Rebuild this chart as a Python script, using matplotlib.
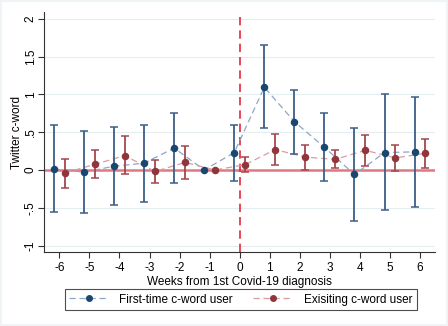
import matplotlib
matplotlib.use("Agg")
import matplotlib.pyplot as plt
from matplotlib.lines import Line2D
from matplotlib.patches import Rectangle
import numpy as np

plt.rcParams["font.family"] = ["Liberation Sans", "DejaVu Sans"]

weeks = [-6, -5, -4, -3, -2, -1, 0, 1, 2, 3, 4, 5, 6]
first_est = [0.013, -0.03, 0.05, 0.09, 0.29, 0.0, 0.23, 1.095, 0.64, 0.30, -0.06, 0.23, 0.24]
first_lo = [-0.56, -0.57, -0.47, -0.42, -0.17, None, -0.14, 0.55, 0.21, -0.15, -0.67, -0.53, -0.49]
first_hi = [0.60, 0.51, 0.57, 0.59, 0.75, None, 0.60, 1.65, 1.06, 0.75, 0.56, 1.00, 0.96]
exist_est = [-0.04, 0.075, 0.19, -0.02, 0.10, 0.0, 0.07, 0.27, 0.17, 0.14, 0.26, 0.16, 0.22]
exist_lo = [-0.24, -0.11, -0.06, -0.17, -0.12, None, -0.03, 0.07, 0.0, 0.02, 0.05, -0.02, 0.02]
exist_hi = [0.15, 0.26, 0.45, 0.13, 0.32, None, 0.17, 0.47, 0.33, 0.26, 0.46, 0.33, 0.41]
yticks = [-1, -0.5, 0, 0.5, 1, 1.5, 2]
ytick_labels = ["-1", "-.5", "0", ".5", "1", "1.5", "2"]
labels = ["First-time c-word user", "Exisiting c-word user"]

blue = "#1a476f"
blue_ci = "#3b5f86"
blue_ln = "#8ea6c4"
red = "#90353b"
red_ci = "#a2474e"
red_ln = "#d69ea2"

fig = plt.figure(figsize=(4.48, 3.26), dpi=100)
fig.patch.set_facecolor("white")
fig.patches.append(Rectangle((0, 0), 1, 1, transform=fig.transFigure, fill=False,
                             edgecolor="#f0f4f6", linewidth=3, zorder=-1))
ax = fig.add_axes([0.099, 0.227, 0.872, 0.735])

off = 0.18
for est, lo, hi, sign, c, cci, cln in [
    (first_est, first_lo, first_hi, -1, blue, blue_ci, blue_ln),
    (exist_est, exist_lo, exist_hi, 1, red, red_ci, red_ln)]:
    xs = np.array(weeks, dtype=float) + sign * off
    ax.plot(xs, est, linestyle=(0, (5, 3)), color=cln, linewidth=0.9, zorder=3)
    for x, e, l, h in zip(xs, est, lo, hi):
        if l is None:
            continue
        ax.errorbar([x], [e], yerr=[[e - l], [h - e]], fmt="none", ecolor=cci,
                    elinewidth=1.3, capsize=3, capthick=1.1, zorder=4)
    ax.plot(xs, est, linestyle="none", marker="o", color=c, markersize=4.4, zorder=5)

ax.axhline(0, color="#e07882", linewidth=1.8, zorder=2)
ax.axvline(0, color="#e3283c", linewidth=1.2, linestyle=(0, (5, 3)), zorder=2)

ax.set_xlim(-6.5, 6.5)
ax.set_ylim(-1.086, 2.086)
ax.set_xticks(weeks)
ax.set_xticklabels([str(w) for w in weeks], fontsize=8.5)
ax.set_yticks(yticks)
ax.set_yticklabels(ytick_labels, fontsize=8.5, rotation=90, va="center")
ax.grid(axis="y", color="#e4edf0", linewidth=0.8)
ax.set_axisbelow(True)
for s in ["top", "right"]:
    ax.spines[s].set_visible(False)
ax.spines["left"].set_color("#333333")
ax.spines["bottom"].set_color("#333333")
ax.tick_params(axis="both", colors="#333333", labelcolor="black", length=4, width=0.8)
ax.tick_params(axis="y", pad=1.5)
ax.set_xlabel("Weeks from 1st Covid-19 diagnosis", fontsize=8.5, labelpad=1)
ax.set_ylabel("Twitter c-word", fontsize=8.5, labelpad=1)

handles = [
    Line2D([0], [0], color=blue_ln, linestyle=(0, (5, 3)), linewidth=0.9,
           marker="o", markerfacecolor=blue, markeredgecolor=blue, markersize=4),
    Line2D([0], [0], color=red_ln, linestyle=(0, (5, 3)), linewidth=0.9,
           marker="o", markerfacecolor=red, markeredgecolor=red, markersize=4),
]
leg = fig.legend(handles, labels, loc="center", bbox_to_anchor=(0.537, 0.081), ncol=2,
                 fontsize=8.5, frameon=True, fancybox=False, edgecolor="#222222",
                 handlelength=3.4, columnspacing=1.7, borderpad=0.35, handletextpad=0.9)
leg.get_frame().set_linewidth(0.8)

fig.savefig("out.png", dpi=100, facecolor=fig.get_facecolor())
